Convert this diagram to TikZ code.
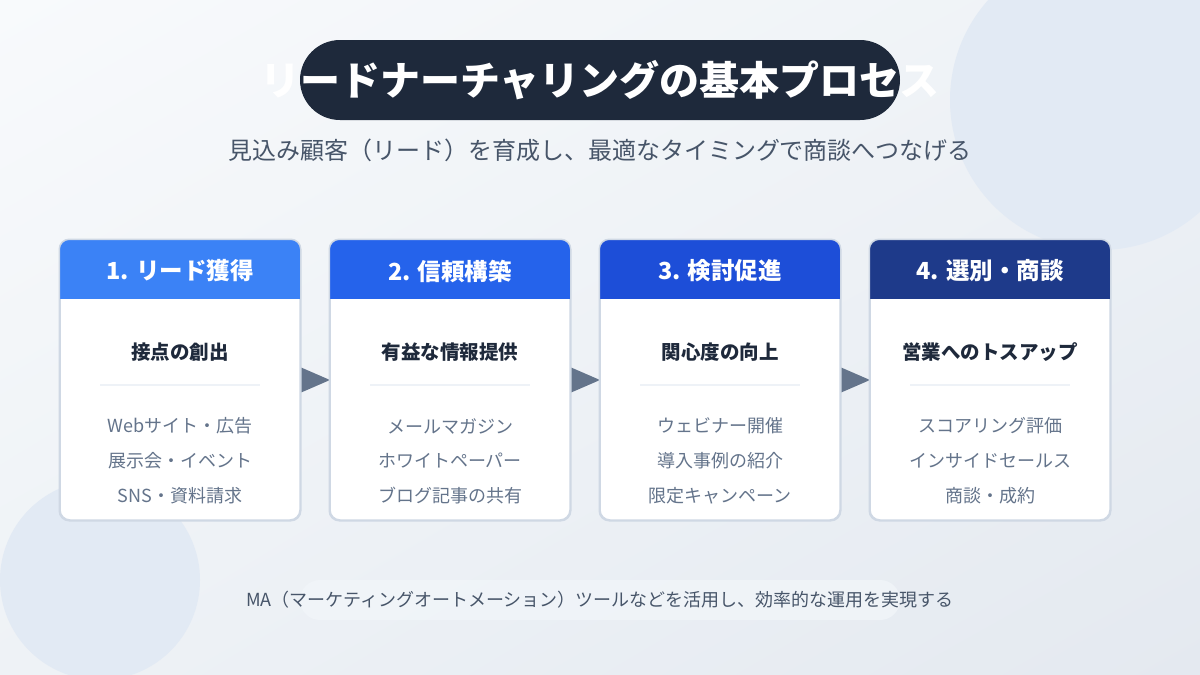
\documentclass[tikz,border=0pt]{standalone}
\usepackage{fontspec}
\setmainfont{Noto Sans CJK JP}
\usetikzlibrary{calc,shadings}
\definecolor{bgA}{HTML}{F8FAFC}
\definecolor{bgB}{HTML}{E4E9F0}
\definecolor{bgM}{HTML}{EEF2F6}
\definecolor{circ}{HTML}{E2EAF4}
\definecolor{pillc}{HTML}{1E293B}
\definecolor{subc}{HTML}{475569}
\definecolor{hA}{HTML}{3B82F6}
\definecolor{hB}{HTML}{2563EB}
\definecolor{hC}{HTML}{1D4ED8}
\definecolor{hD}{HTML}{1E3A8A}
\definecolor{btc}{HTML}{1E293B}
\definecolor{itc}{HTML}{64748B}
\definecolor{divc}{HTML}{EEF2F7}
\definecolor{bordc}{HTML}{CFD8E4}
\definecolor{arrc}{HTML}{64748B}
\definecolor{footc}{HTML}{F1F5F9}
\tikzset{
  card/.style={draw=bordc, line width=1.5pt, fill=white, rounded corners=10pt,
    minimum width=240pt, minimum height=280pt, inner sep=0pt},
  headtxt/.style={text=white, font=\fontsize{23.5}{27}\selectfont\bfseries},
  bodytitle/.style={text=btc, font=\fontsize{19.5}{23}\selectfont\bfseries},
  itemtxt/.style={text=itc, font=\fontsize{18}{22}\selectfont},
  divline/.style={draw=divc, line width=2pt},
  arrowtri/.style={fill=arrc},
}
\newcommand{\stagecard}[8]{%
  % #1 name, #2 x center, #3 header colour, #4 header, #5 title, #6-#8 items
  \node[card] (#1) at (#2,380) {};
  \begin{scope}
    \clip[rounded corners=10pt] (#1.north west) rectangle (#1.south east);
    \fill[#3] (#1.north west) rectangle ($(#1.north east)+(0,60)$);
  \end{scope}
  \draw[bordc, line width=1.5pt, rounded corners=10pt] (#1.north west) rectangle (#1.south east);
  \node[headtxt] (#1h) at (#2,271) {#4};
  \node[bodytitle] (#1t) at (#2,352) {#5};
  \coordinate (#1dl) at ($(#2,385)+(-80,0)$);
  \coordinate (#1dr) at ($(#2,385)+(80,0)$);
  \draw[divline] (#1dl) -- (#1dr);
  \node[itemtxt] (#1a) at (#2,426) {#6};
  \node[itemtxt] (#1b) at (#2,461) {#7};
  \node[itemtxt] (#1c) at (#2,496) {#8};
}
\begin{document}
\begin{tikzpicture}[x=1pt,y=-1pt]
\useasboundingbox (0,0) rectangle (1200,675);
\shade[upper left=bgA, lower right=bgB, upper right=bgM, lower left=bgM] (0,0) rectangle (1200,675);
\begin{scope}
\clip (0,0) rectangle (1200,675);
\fill[circ] (1100,100) circle (150pt);
\fill[circ] (100,580) circle (100pt);
\end{scope}
% title
\node[fill=pillc, rounded corners=40pt, minimum width=600pt, minimum height=80pt, inner sep=0pt] (titlebg) at (600,80) {};
\node[text=white, font=\fontsize{40}{46}\selectfont\bfseries] (title) at (600,80) {リードナーチャリングの基本プロセス};
\node[text=subc, font=\fontsize{24}{28}\selectfont] (subtitle) at (600,150) {見込み顧客（リード）を育成し、最適なタイミングで商談へつなげる};
% arrows (behind cards)
\coordinate (a1) at (300,367); \coordinate (a1b) at (300,393); \coordinate (a1t) at (330,380);
\coordinate (a2) at (570,367); \coordinate (a2b) at (570,393); \coordinate (a2t) at (600,380);
\coordinate (a3) at (840,367); \coordinate (a3b) at (840,393); \coordinate (a3t) at (870,380);
\fill[arrowtri] (a1) -- (a1t) -- (a1b) -- cycle;
\fill[arrowtri] (a2) -- (a2t) -- (a2b) -- cycle;
\fill[arrowtri] (a3) -- (a3t) -- (a3b) -- cycle;
% cards
\stagecard{c1}{180}{hA}{1. リード獲得}{接点の創出}{Webサイト・広告}{展示会・イベント}{SNS・資料請求}
\stagecard{c2}{450}{hB}{2. 信頼構築}{有益な情報提供}{メールマガジン}{ホワイトペーパー}{ブログ記事の共有}
\stagecard{c3}{720}{hC}{3. 検討促進}{関心度の向上}{ウェビナー開催}{導入事例の紹介}{限定キャンペーン}
\stagecard{c4}{990}{hD}{4. 選別・商談}{営業へのトスアップ}{スコアリング評価}{インサイドセールス}{商談・成約}
% footer
\node[fill=footc, fill opacity=0.8, rounded corners=20pt, minimum width=600pt, minimum height=40pt, inner sep=0pt] (footbg) at (600,600) {};
\node[text=subc, font=\fontsize{18}{21}\selectfont] (foot) at (600,600) {MA（マーケティングオートメーション）ツールなどを活用し、効率的な運用を実現する};
\end{tikzpicture}
\end{document}
